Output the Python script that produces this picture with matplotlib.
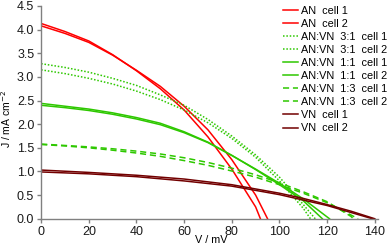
import matplotlib
matplotlib.use("Agg")
import matplotlib.pyplot as plt
import numpy as np

plt.rcParams['font.family'] = ['Liberation Sans', 'DejaVu Sans']

# J-V curves (V in mV, J in mA cm^-2)
v_an1 = [0, 10, 20, 30, 40, 50, 60, 70, 80, 90, 92]
j_an1 = [4.13, 3.96, 3.76, 3.47, 3.13, 2.75, 2.30, 1.73, 1.05, 0.25, 0.0]
v_an2 = [0, 10, 20, 30, 40, 50, 60, 70, 80, 90, 95]
j_an2 = [4.08, 3.92, 3.73, 3.46, 3.14, 2.80, 2.38, 1.88, 1.25, 0.50, 0.0]

v_31a = [0, 10, 20, 30, 40, 50, 60, 70, 80, 90, 100, 110, 115]
j_31a = [3.28, 3.20, 3.10, 2.97, 2.82, 2.62, 2.40, 2.10, 1.75, 1.35, 0.88, 0.30, 0.0]
v_31b = [0, 10, 20, 30, 40, 50, 60, 70, 80, 90, 100, 110, 113]
j_31b = [3.15, 3.07, 2.97, 2.85, 2.70, 2.52, 2.30, 2.03, 1.70, 1.30, 0.80, 0.22, 0.0]

v_11a = [0, 10, 20, 30, 40, 50, 60, 70, 80, 90, 100, 110, 118]
j_11a = [2.44, 2.38, 2.32, 2.24, 2.14, 2.02, 1.84, 1.62, 1.34, 1.04, 0.72, 0.38, 0.0]
v_11b = [0, 10, 20, 30, 40, 50, 60, 70, 80, 90, 100, 110, 121]
j_11b = [2.40, 2.35, 2.29, 2.21, 2.11, 1.99, 1.82, 1.61, 1.34, 1.05, 0.75, 0.42, 0.0]

v_13a = [0, 10, 20, 30, 40, 50, 60, 70, 80, 90, 100, 110, 120, 130, 131]
j_13a = [1.58, 1.55, 1.52, 1.48, 1.43, 1.37, 1.29, 1.19, 1.07, 0.93, 0.76, 0.57, 0.36, 0.05, 0.0]
v_13b = [0, 10, 20, 30, 40, 50, 60, 70, 80, 90, 100, 110, 120, 130, 133]
j_13b = [1.57, 1.54, 1.50, 1.45, 1.39, 1.32, 1.23, 1.13, 1.01, 0.88, 0.72, 0.54, 0.34, 0.08, 0.0]

v_vn1 = [0, 20, 40, 60, 80, 100, 110, 120, 130, 140]
j_vn1 = [1.03, 0.98, 0.92, 0.84, 0.72, 0.54, 0.43, 0.30, 0.16, 0.0]
v_vn2 = [0, 20, 40, 60, 80, 100, 120, 139]
j_vn2 = [0.99, 0.95, 0.89, 0.80, 0.69, 0.51, 0.28, 0.0]

red = '#ff0000'
green = '#2ec800'
brown = '#720000'

fig = plt.figure(figsize=(3.92, 2.5), dpi=100)
ax = fig.add_axes([0.105, 0.125, 0.859, 0.851])

lw = 1.1
ax.plot(v_an1, j_an1, color=red, lw=lw, label='AN  cell 1')
ax.plot(v_an2, j_an2, color=red, lw=lw, label='AN  cell 2')
ax.plot(v_31a, j_31a, color=green, lw=lw, ls=(0, (1, 1.2)), label='AN:VN  3:1  cell 1')
ax.plot(v_31b, j_31b, color=green, lw=lw, ls=(0, (1, 1.2)), label='AN:VN  3:1  cell 2')
ax.plot(v_11a, j_11a, color=green, lw=lw, label='AN:VN  1:1  cell 1')
ax.plot(v_11b, j_11b, color=green, lw=lw, label='AN:VN  1:1  cell 2')
ax.plot(v_13a, j_13a, color=green, lw=lw, ls=(0, (4, 2.5)), label='AN:VN  1:3  cell 1')
ax.plot(v_13b, j_13b, color=green, lw=lw, ls=(0, (4, 2.5)), label='AN:VN  1:3  cell 2')
ax.plot(v_vn1, j_vn1, color=brown, lw=lw, label='VN  cell 1')
ax.plot(v_vn2, j_vn2, color=brown, lw=lw, label='VN  cell 2')

ax.set_xlim(0, 141.3)
ax.set_ylim(0, 4.5)
ax.set_xticks(np.arange(0, 141, 20))
ax.set_yticks(np.arange(0, 4.51, 0.5))
ax.set_yticklabels(['%.1f' % t for t in np.arange(0, 4.51, 0.5)])
for s in ['top', 'right']:
    ax.spines[s].set_visible(False)
for s in ['left', 'bottom']:
    ax.spines[s].set_color('#808080')
    ax.spines[s].set_linewidth(1.0)
ax.tick_params(colors='#808080', labelcolor='#1a1a1a', labelsize=9, length=3, width=1.0, pad=2)

ax.set_xlabel('V / mV', fontsize=7.8)
ax.set_ylabel('J / mA cm$^{-2}$', fontsize=7.5)
ax.xaxis.set_label_coords(0.504, -0.075)
ax.yaxis.set_label_coords(-0.083, 0.47)

ax.legend(loc='upper left', bbox_to_anchor=(283 / 392, 1 - 6 / 250), bbox_transform=fig.transFigure,
          frameon=False, fontsize=7.8, handlelength=1.4, handletextpad=0.3,
          labelspacing=0.28, borderpad=0, borderaxespad=0)

fig.savefig('out.png', dpi=100)
